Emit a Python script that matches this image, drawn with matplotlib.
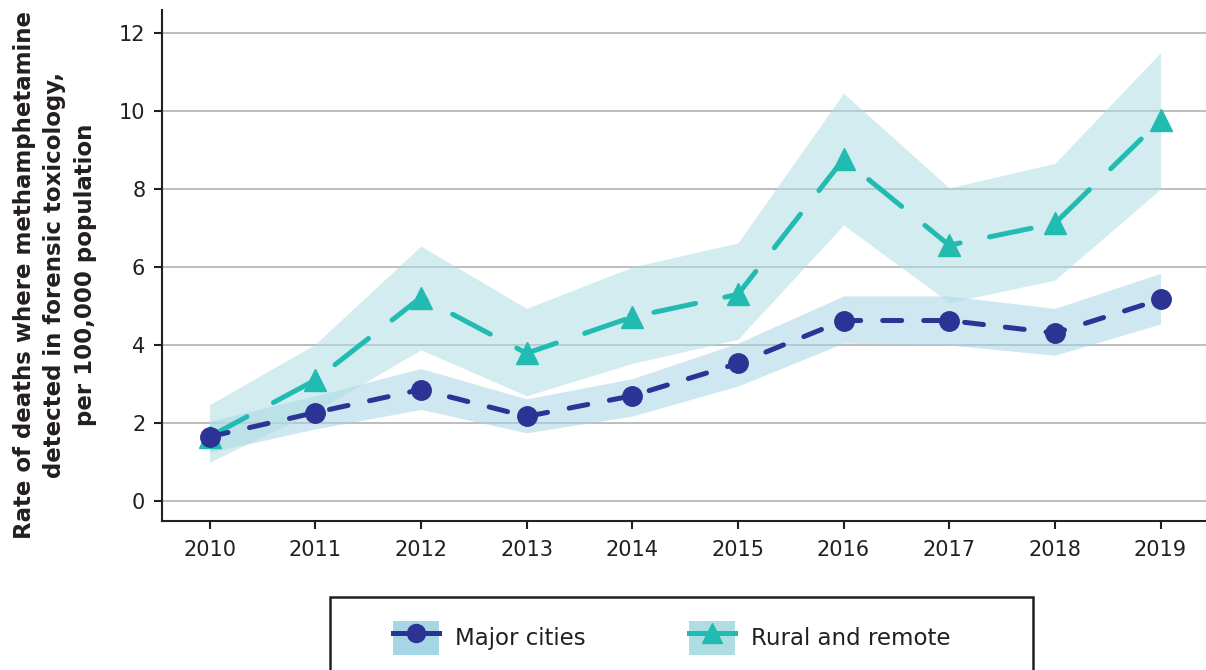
import matplotlib
matplotlib.use("Agg")
import matplotlib.pyplot as plt
from matplotlib.patches import Patch, Rectangle
from matplotlib.lines import Line2D
from matplotlib.legend_handler import HandlerTuple

years = [2010, 2011, 2012, 2013, 2014, 2015, 2016, 2017, 2018, 2019]

# Major cities: rate, lower and upper bound
major = [1.65, 2.27, 2.86, 2.17, 2.70, 3.53, 4.63, 4.63, 4.31, 5.17]
major_lo = [1.25, 1.85, 2.35, 1.75, 2.18, 2.95, 4.05, 4.00, 3.74, 4.54]
major_hi = [2.05, 2.70, 3.40, 2.62, 3.14, 4.05, 5.26, 5.26, 4.94, 5.84]

# Rural and remote
rural = [1.65, 3.10, 5.22, 3.79, 4.72, 5.30, 8.77, 6.56, 7.12, 9.77]
rural_lo = [1.00, 2.30, 3.88, 2.70, 3.53, 4.15, 7.08, 5.09, 5.67, 8.00]
rural_hi = [2.47, 4.02, 6.54, 4.94, 6.00, 6.62, 10.46, 8.03, 8.66, 11.50]

labels = ["Major cities", "Rural and remote"]
yticks = [0, 2, 4, 6, 8, 10, 12]

c_major = "#2b3494"
c_rural = "#22bbb2"
band_major = "#a6d5e6"
band_rural = "#afdde4"
dark = "#231f20"

fig = plt.figure(figsize=(12.06, 6.70), dpi=100)
ax = fig.add_axes([0.1343, 0.2224, 0.8657, 0.7626])

ax.fill_between(years, major_lo, major_hi, color=band_major, alpha=0.55, lw=0, zorder=1)
ax.fill_between(years, rural_lo, rural_hi, color=band_rural, alpha=0.55, lw=0, zorder=1)

ax.plot(years, major, color=c_major, lw=3.6, dashes=(3.8, 4.4), dash_capstyle="round",
        marker="o", markersize=14, zorder=4)
ax.plot(years, rural, color=c_rural, lw=3.6, dashes=(8.5, 6), dash_capstyle="round",
        marker="^", markersize=16, zorder=3)

ax.set_xlim(2009.55, 2019.43)
ax.set_ylim(-0.51, 12.59)
ax.set_xticks(years)
ax.set_yticks(yticks)
ax.yaxis.grid(True, color="#bdbdbd", lw=1.4)
ax.set_axisbelow(True)
for s in ["top", "right"]:
    ax.spines[s].set_visible(False)
for s in ["left", "bottom"]:
    ax.spines[s].set_color(dark)
    ax.spines[s].set_linewidth(1.5)
ax.tick_params(axis="both", colors=dark, labelsize=15, length=6, width=1.5, direction="out")
ax.tick_params(axis="x", pad=8)
ax.tick_params(axis="y", pad=6)

fig.text(55 / 1206, 1 - 275 / 670,
         "Rate of deaths where methamphetamine\ndetected in forensic toxicology,\nper 100,000 population",
         rotation=90, ha="center", va="center", multialignment="center",
         fontsize=16.5, fontweight="bold", color=dark, linespacing=1.42)

# legend frame (runs off the bottom)
fig.patches.append(Rectangle((330 / 1206, -0.05), 703 / 1206, 0.05 + 1 - 597 / 670,
                             transform=fig.transFigure, fill=False, edgecolor=dark, lw=1.8))

h1 = (Patch(facecolor=band_major, edgecolor="none"),
      Line2D([], [], color=c_major, lw=3.6, marker="o", markersize=13))
h2 = (Patch(facecolor=band_rural, edgecolor="none"),
      Line2D([], [], color=c_rural, lw=3.6, marker="^", markersize=14))
fig.legend([h1, h2], labels, handler_map={tuple: HandlerTuple(ndivide=1, pad=0)},
           loc="center left", bbox_to_anchor=(382 / 1206, 1 - 638 / 670), ncol=2,
           frameon=False, fontsize=16.5, handlelength=2.0, handleheight=1.95,
           handletextpad=0.7, columnspacing=4.5, borderpad=0, numpoints=1,
           labelcolor=dark)

fig.savefig("out.png", dpi=100)
